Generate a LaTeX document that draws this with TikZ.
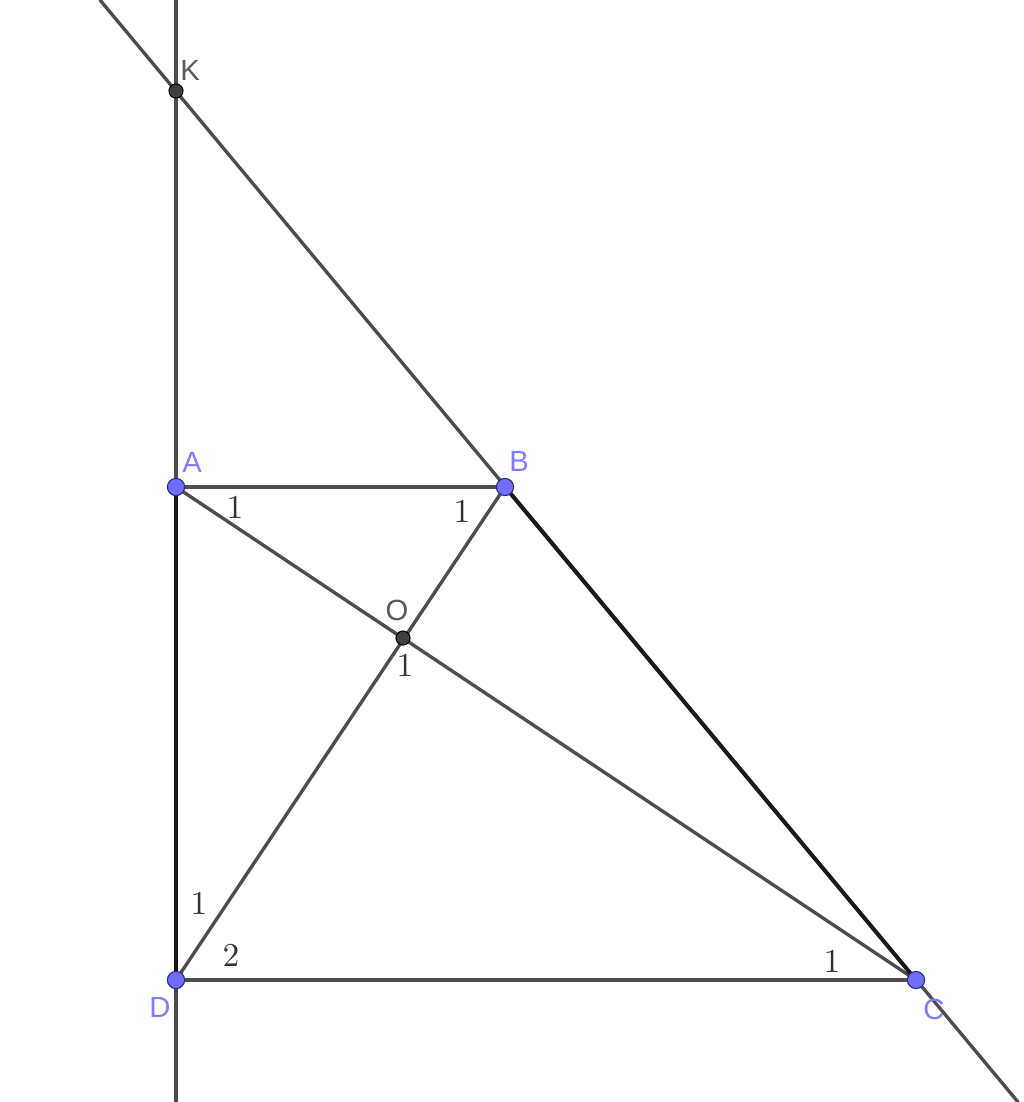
\documentclass[tikz,border=0pt]{standalone}
\usepackage{fontspec}
\newfontfamily\lblfont{Liberation Sans}
\definecolor{lineg}{RGB}{77,77,77}
\definecolor{ptblue}{RGB}{110,110,250}
\definecolor{ptedge}{RGB}{40,40,120}
\definecolor{lblblue}{RGB}{125,125,255}
\definecolor{lblgray}{RGB}{90,90,90}
\begin{document}
\begin{tikzpicture}[
  x = 0.01cm, y = -0.01cm,     % one unit is one pixel of the figure
  line width = 0.95pt,         % lines of the figure
  line cap = round
  ]

  \tikzstyle{P1}=[      % Defines style for free points
  circle,
  fill = ptblue,
  draw = ptedge,
  line width = 0.3pt,
  inner sep = 0pt,
  minimum size = 4.9pt
  ]

  \tikzstyle{P2}=[      % Defines style for constructed points
  circle,
  fill = black!75,
  draw = black,
  line width = 0.3pt,
  inner sep = 0pt,
  minimum size = 4pt
  ]

  \tikzstyle{L1}=[      % Defines style for point names
  font = \lblfont\fontsize{8.3}{9}\selectfont,
  text = lblblue,
  inner sep = 0pt
  ]

  \tikzstyle{N1}=[      % Defines style for angle numbers
  font = \fontsize{9.5}{10}\selectfont,
  text = black!80,
  inner sep = 0pt
  ]

  \useasboundingbox (0,0) rectangle (1024,1102);

  % Definition of the points
  \coordinate (K) at (176,91);
  \coordinate (A) at (176,487);
  \coordinate (B) at (505,487);
  \coordinate (D) at (176,980);
  \coordinate (C) at (916,980);
  \coordinate (O) at (403,638);
  \coordinate (top) at (176,0);
  \coordinate (bot) at (176,1102);
  \coordinate (kc1) at (100,0);
  \coordinate (kc2) at (1018,1102);

  % Lines
  \draw[lineg] (top) -- (bot);
  \draw[lineg] (kc1) -- (kc2);
  \draw[lineg] (A) -- (B);
  \draw[lineg] (A) -- (C);
  \draw[lineg] (B) -- (D);
  \draw[lineg] (D) -- (C);
  \draw[black!90, line width = 1.1pt] (A) -- (D);
  \draw[black!90, line width = 1.1pt] (B) -- (C);

  % Points
  \node[P2] (k) at (K) {};
  \node[P2] (o) at (O) {};
  \node[P1] (a) at (A) {};
  \node[P1] (b) at (B) {};
  \node[P1] (d) at (D) {};
  \node[P1] (c) at (C) {};

  % Names
  \node[L1, text = lblgray] at (190,70) {K};
  \node[L1] at (192,462) {A};
  \node[L1] at (519,461) {B};
  \node[L1, text = lblgray] at (397,610) {O};
  \node[L1] at (160,1007) {D};
  \node[L1] at (934,1009) {C};

  % Angle numbers
  \node[N1] at (235,507) {1};
  \node[N1] at (462,511) {1};
  \node[N1] at (405,665) {1};
  \node[N1] at (199,903) {1};
  \node[N1] at (231,955) {2};
  \node[N1] at (832,961) {1};
\end{tikzpicture}
\end{document}
